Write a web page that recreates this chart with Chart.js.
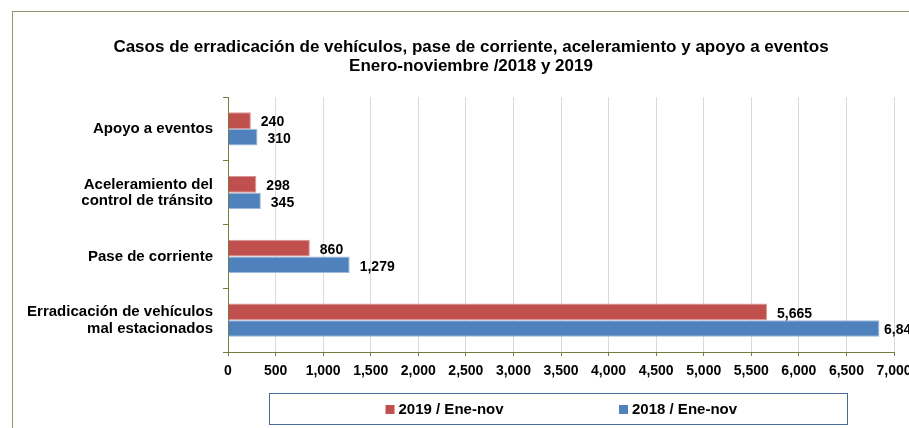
<!DOCTYPE html>
<html>
<head>
<meta charset="utf-8">
<script src="https://cdn.jsdelivr.net/npm/chart.js@4"></script>
<style>
  html, body { margin: 0; padding: 0; background: #fff; overflow: hidden; width: 909px; height: 428px; }
  #frame {
    position: absolute; left: 12px; top: 11px; width: 1000px; height: 500px;
    border-left: 1px solid #8c9a6c; border-top: 1px solid #8c9a6c;
  }
  #chart { position: absolute; left: 13px; top: 12px; }
</style>
</head>
<body>
<div id="frame"></div>
<canvas id="chart" width="916" height="416"></canvas>
<script>
// Kategorien (von oben nach unten)
const categories = [
  "Apoyo a eventos",
  ["Aceleramiento del", "control de tránsito"],
  "Pase de corriente",
  ["Erradicación de vehículos", "mal estacionados"],
];
const series2019 = [240, 298, 860, 5665];
const series2018 = [310, 345, 1279, 6847];
const seriesLabels = ["2019 / Ene-nov", "2018 / Ene-nov"];
const titleLines = [
  "Casos de erradicación de vehículos, pase de corriente, aceleramiento y apoyo a eventos",
  "Enero-noviembre /2018 y 2019",
];

const FONT = "'Liberation Sans', Arial, sans-serif";
const RED = "#c0504d";
const BLUE = "#4f81bd";
const AXIS = "#6f7f3f";

const fmt = (v) => Number(v).toLocaleString("en-US");

// Titel: über dem ganzen Diagrammrahmen zentriert, nicht nur über dem Plotbereich
const centeredTitle = {
  id: "centeredTitle",
  afterDraw(chart) {
    const ctx = chart.ctx;
    ctx.save();
    ctx.font = `bold 17px ${FONT}`;
    ctx.fillStyle = "#000";
    ctx.textAlign = "center";
    ctx.textBaseline = "middle";
    titleLines.forEach((line, i) => ctx.fillText(line, 458, 35.5 + i * 19));
    ctx.restore();
  },
};

// Werte rechts neben den Balken (bleiben innerhalb des Rahmens)
const valueLabels = {
  id: "valueLabels",
  afterDatasetsDraw(chart) {
    const ctx = chart.ctx;
    ctx.save();
    ctx.font = `bold 14px ${FONT}`;
    ctx.fillStyle = "#000";
    ctx.textAlign = "left";
    ctx.textBaseline = "middle";
    chart.data.datasets.forEach((ds, i) => {
      chart.getDatasetMeta(i).data.forEach((el, j) => {
        const txt = fmt(ds.data[j]);
        const maxX = chart.width - ctx.measureText(txt).width - 10;
        ctx.fillText(txt, Math.min(el.x + 10, maxX), el.y + 2);
      });
    });
    ctx.restore();
  },
};

// Legende im Kasten unten
const boxLegend = {
  id: "boxLegend",
  afterDraw(chart) {
    const ctx = chart.ctx;
    ctx.save();
    ctx.strokeStyle = "#4a6a9a";
    ctx.lineWidth = 1;
    ctx.strokeRect(256.5, 381.5, 578, 31);
    const xs = [372.5, 606];
    ctx.font = `bold 15px ${FONT}`;
    ctx.textBaseline = "middle";
    ctx.textAlign = "left";
    chart.data.datasets.forEach((ds, i) => {
      ctx.fillStyle = ds.backgroundColor;
      ctx.fillRect(xs[i], 393, 9, 9);
      ctx.fillStyle = "#000";
      ctx.fillText(ds.label, xs[i] + 13, 397.5);
    });
    ctx.restore();
  },
};

new Chart(document.getElementById("chart"), {
  type: "bar",
  data: {
    labels: categories,
    datasets: [
      {
        label: seriesLabels[0],
        data: series2019,
        backgroundColor: RED,
        borderColor: "#d69593",
        borderWidth: 1,
      },
      {
        label: seriesLabels[1],
        data: series2018,
        backgroundColor: BLUE,
        borderColor: "#9db9dc",
        borderWidth: 1,
      },
    ],
  },
  options: {
    indexAxis: "y",
    responsive: false,
    devicePixelRatio: 1,
    animation: false,
    layout: { padding: { left: 0, right: 35, top: 85, bottom: 36 } },
    datasets: { bar: { categoryPercentage: 0.525, barPercentage: 1 } },
    plugins: {
      legend: { display: false },
      tooltip: { enabled: false },
      title: { display: false },
    },
    scales: {
      x: {
        min: 0,
        max: 7000,
        afterFit: (s) => { s.height = 40; },
        ticks: {
          stepSize: 500,
          color: "#000",
          padding: 7,
          font: { family: FONT, size: 14, weight: "bold" },
          callback: (v) => fmt(v),
        },
        grid: { color: "#d9d9d9", tickColor: AXIS, tickLength: 4 },
        border: { color: AXIS, width: 1 },
      },
      y: {
        afterFit: (s) => { s.width = 215; },
        ticks: {
          color: "#000",
          padding: 10,
          font: { family: FONT, size: 15, weight: "bold", lineHeight: 1.1 },
        },
        grid: { drawOnChartArea: false, tickColor: AXIS, tickLength: 5 },
        border: { color: AXIS, width: 1 },
      },
    },
  },
  plugins: [centeredTitle, valueLabels, boxLegend],
});
</script>
</body>
</html>
